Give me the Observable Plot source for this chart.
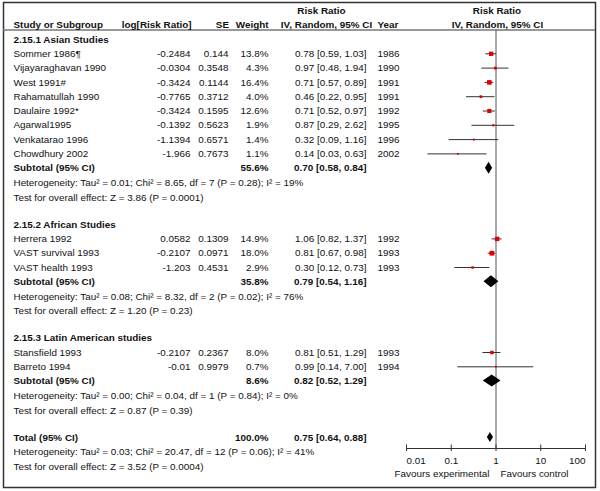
<!DOCTYPE html>
<html>
<head>
<meta charset="utf-8">
<script src="https://cdn.jsdelivr.net/npm/d3@7"></script>
<script src="https://cdn.jsdelivr.net/npm/@observablehq/plot@0.6"></script>
<style>
  html, body { margin: 0; padding: 0; background: #fff; }
</style>
</head>
<body>
<div id="chart"></div>
<script>
// ---------- data ----------
const groupNames = ["2.15.1 Asian Studies", "2.15.2 African Studies", "2.15.3 Latin American studies"];
const studyNames = ["Sommer 1986¶", "Vijayaraghavan 1990", "West 1991#", "Rahamatullah 1990", "Daulaire 1992*",
  "Agarwal1995", "Venkatarao 1996", "Chowdhury 2002", "Herrera 1992", "VAST survival 1993", "VAST health 1993",
  "Stansfield 1993", "Barreto 1994"];
const studyGroup = [0, 0, 0, 0, 0, 0, 0, 0, 1, 1, 1, 2, 2];
const logRR = [-0.2484, -0.0304, -0.3424, -0.7765, -0.3424, -0.1392, -1.1394, -1.966, 0.0582, -0.2107, -1.203, -0.2107, -0.01];
const seVals = [0.144, 0.3548, 0.1144, 0.3712, 0.1595, 0.5623, 0.6571, 0.7673, 0.1309, 0.0971, 0.4531, 0.2367, 0.9979];
const weights = [13.8, 4.3, 16.4, 4.0, 12.6, 1.9, 1.4, 1.1, 14.9, 18.0, 2.9, 8.0, 0.7];
const riskRatio = [0.78, 0.97, 0.71, 0.46, 0.71, 0.87, 0.32, 0.14, 1.06, 0.81, 0.30, 0.81, 0.99];
const ciLow = [0.59, 0.48, 0.57, 0.22, 0.52, 0.29, 0.09, 0.03, 0.82, 0.67, 0.12, 0.51, 0.14];
const ciHigh = [1.03, 1.94, 0.89, 0.95, 0.97, 2.62, 1.16, 0.63, 1.37, 0.98, 0.73, 1.29, 7.00];
const years = [1986, 1990, 1991, 1991, 1992, 1995, 1996, 2002, 1992, 1993, 1993, 1993, 1994];

const subtotalWeight = [55.6, 35.8, 8.6];
const subtotalRR = [0.70, 0.79, 0.82];
const subtotalLow = [0.58, 0.54, 0.52];
const subtotalHigh = [0.84, 1.16, 1.29];
const heterogeneity = [
  "Heterogeneity: Tau² = 0.01; Chi² = 8.65, df = 7 (P = 0.28); I² = 19%",
  "Heterogeneity: Tau² = 0.08; Chi² = 8.32, df = 2 (P = 0.02); I² = 76%",
  "Heterogeneity: Tau² = 0.00; Chi² = 0.04, df = 1 (P = 0.84); I² = 0%"
];
const overallTest = [
  "Test for overall effect: Z = 3.86 (P = 0.0001)",
  "Test for overall effect: Z = 1.20 (P = 0.23)",
  "Test for overall effect: Z = 0.87 (P = 0.39)"
];
const totalWeight = 100.0;
const totalRR = 0.75;
const totalLow = 0.64;
const totalHigh = 0.88;
const totalHeterogeneity = "Heterogeneity: Tau² = 0.03; Chi² = 20.47, df = 12 (P = 0.06); I² = 41%";
const totalTest = "Test for overall effect: Z = 3.52 (P = 0.0004)";

const headerTop = ["Risk Ratio", "Risk Ratio"];
const headerColumns = ["Study or Subgroup", "log[Risk Ratio]", "SE", "Weight", "IV, Random, 95% CI", "Year", "IV, Random, 95% CI"];
const axisTicks = [0.01, 0.1, 1, 10, 100];
const favoursLabels = ["Favours experimental", "Favours control"];

// ---------- layout (computed) ----------
const STEP = 14.3, HSTEP = 14.7, GAP = 27, TOP = 39;
const HEADER_Y1 = 10, HEADER_Y2 = 24, HEADER_LINE = 29.5, AXIS_Y = 448;
const FS = 9.9;

const labelRows = [], studyRows = [], summaryRows = [], noteRows = [];
let yy = TOP;
groupNames.forEach((g, gi) => {
  labelRows.push({y: yy, text: g});
  studyNames.forEach((name, i) => {
    if (studyGroup[i] !== gi) return;
    yy += STEP;
    studyRows.push({
      y: yy, name, logRR: String(logRR[i]), se: String(seVals[i]), w: weights[i],
      rr: riskRatio[i], lo: ciLow[i], hi: ciHigh[i], year: String(years[i])
    });
  });
  yy += STEP;
  summaryRows.push({y: yy, name: "Subtotal (95% CI)", w: subtotalWeight[gi], rr: subtotalRR[gi],
    lo: subtotalLow[gi], hi: subtotalHigh[gi], h: 6, id: "g" + gi});
  yy += HSTEP; noteRows.push({y: yy, text: heterogeneity[gi]});
  yy += HSTEP; noteRows.push({y: yy, text: overallTest[gi]});
  yy += GAP;
});
summaryRows.push({y: yy, name: "Total (95% CI)", w: totalWeight, rr: totalRR, lo: totalLow, hi: totalHigh, h: 5, id: "total"});
noteRows.push({y: yy + HSTEP, text: totalHeterogeneity});
noteRows.push({y: yy + 2 * HSTEP, text: totalTest});

const ciText = d => `${d.rr.toFixed(2)} [${d.lo.toFixed(2)}, ${d.hi.toFixed(2)}]`;
const wText = d => `${d.w.toFixed(1)}%`;

const diamonds = summaryRows.flatMap(d => [
  {id: d.id, x: d.lo, y1: d.y, y2: d.y},
  {id: d.id, x: d.rr, y1: d.y - d.h, y2: d.y + d.h},
  {id: d.id, x: d.hi, y1: d.y, y2: d.y}
]);

const txt = (data, text, dx, anchor, extra = {}) =>
  Plot.text(data, {y: "y", text, frameAnchor: "left", dx, textAnchor: anchor, fontSize: FS, fill: "#111", ...extra});

const headerX = [13, 191, 228.5, 268, 326, 377, 497];
const headerAnchor = ["start", "end", "end", "end", "middle", "start", "middle"];
const headerTopX = [321, 496.5];
const tickAnchor = (i, n) => i === 0 ? "start" : i === n - 1 ? "end" : "middle";

const chart = Plot.plot({
  width: 600,
  height: 491,
  margin: 0,
  style: {fontFamily: "'Liberation Sans', Arial, sans-serif", fontSize: "9.9px", color: "#111", background: "#fff"},
  x: {type: "log", domain: [0.01, 100], range: [406, 585], axis: null},
  y: {type: "linear", domain: [0, 491], range: [0, 491], axis: null},
  r: {type: "sqrt", domain: [0, 18], range: [0.5, 2.7]},
  marks: [
    Plot.frame({stroke: "#333", strokeWidth: 1.5, insetLeft: 3, insetTop: 2, insetRight: 5, insetBottom: 4}),
    Plot.ruleY([HEADER_LINE], {stroke: "#777", strokeWidth: 1.5, insetLeft: 3, insetRight: 5}),
    // headers
    headerTop.map((t, i) => Plot.text([t], {y: () => HEADER_Y1, text: d => d, frameAnchor: "left", dx: headerTopX[i],
      textAnchor: "middle", fontWeight: "bold", fontSize: FS, fill: "#111"})),
    headerColumns.map((t, i) => Plot.text([t], {y: () => HEADER_Y2, text: d => d, frameAnchor: "left", dx: headerX[i],
      textAnchor: headerAnchor[i], fontWeight: "bold", fontSize: FS, fill: "#111"})),
    // group labels
    txt(labelRows, "text", 13, "start", {fontWeight: "bold"}),
    // study rows
    txt(studyRows, "name", 13, "start"),
    txt(studyRows, "logRR", 190, "end"),
    txt(studyRows, "se", 228, "end"),
    txt(studyRows, "w", 268, "end", {text: wText}),
    txt(studyRows, "rr", 366, "end", {text: ciText}),
    txt(studyRows, "year", 377, "start"),
    // summary rows
    txt(summaryRows, "name", 13, "start", {fontWeight: "bold"}),
    txt(summaryRows, "w", 268, "end", {text: wText, fontWeight: "bold"}),
    txt(summaryRows, "rr", 366, "end", {text: ciText, fontWeight: "bold"}),
    // heterogeneity notes
    txt(noteRows, "text", 13, "start"),
    // plot: line of no effect
    Plot.ruleX([1], {y1: HEADER_LINE, y2: AXIS_Y, stroke: "#555", strokeWidth: 1}),
    // confidence intervals
    Plot.ruleY(studyRows, {y: "y", x1: "lo", x2: "hi", stroke: "#333", strokeWidth: 1}),
    // diamonds
    Plot.areaY(diamonds, {x: "x", y1: "y1", y2: "y2", z: "id", fill: "#000", curve: "linear"}),
    // point estimates
    Plot.dot(studyRows, {x: "rr", y: "y", r: "w", symbol: "square", fill: "#e00000"}),
    // axis
    Plot.ruleY([AXIS_Y], {x1: axisTicks[0], x2: axisTicks[axisTicks.length - 1], stroke: "#333", strokeWidth: 1}),
    Plot.ruleX(axisTicks, {x: d => d, y1: AXIS_Y - 3.5, y2: AXIS_Y + 3, stroke: "#333", strokeWidth: 1}),
    axisTicks.map((t, i) => Plot.text([t], {x: d => d, y: () => AXIS_Y + 12, text: d => String(d),
      textAnchor: tickAnchor(i, axisTicks.length), fontSize: FS, fill: "#111"})),
    Plot.text([favoursLabels[0]], {x: () => 1, y: () => AXIS_Y + 25, text: d => d, textAnchor: "end", dx: -6.5, fontSize: FS, fill: "#111"}),
    Plot.text([favoursLabels[1]], {x: () => 1, y: () => AXIS_Y + 25, text: d => d, textAnchor: "start", dx: 4.5, fontSize: FS, fill: "#111"})
  ]
});
document.getElementById("chart").appendChild(chart);
</script>
</body>
</html>
